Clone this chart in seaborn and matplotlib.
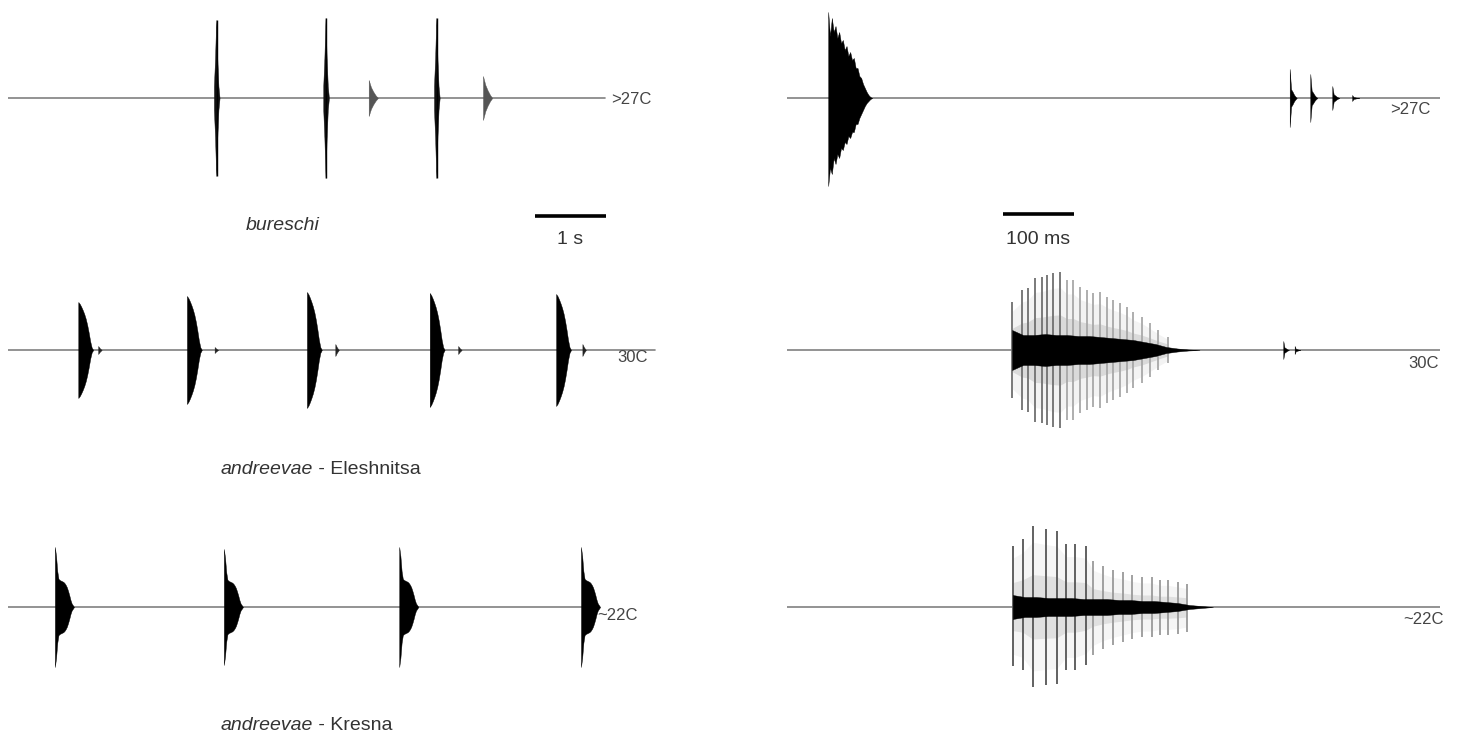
import numpy as np
import seaborn as sns
import matplotlib
matplotlib.use("Agg")
import matplotlib.pyplot as plt

# ---------------------------------------------------------
# Daten (Oszillogramme)
# ---------------------------------------------------------

# linke Spalte: Zeit in s, Amplitude in px
bur_spike_t = [2.94, 4.48, 6.04]
bur_spike_amp = [78, 80, 80]
bur_small_t = [5.08, 6.69]
bur_small_amp = [18, 22]

ele_t = [0.99, 2.52, 4.21, 5.94, 7.72]
ele_amp = [48, 54, 58, 57, 56]
ele_tick_t = [1.27, 2.91, 4.61, 6.34, 8.09]
ele_tick_amp = [4, 3, 6, 4, 6]

kre_t = [0.66, 3.04, 5.51, 8.07]
kre_amp = [60, 58, 60, 60]

# Hüllkurvenprofile (relativ, über die Pulsdauer)
spike_profile = [0.15, 0.5, 1.0, 0.5, 0.15, 0.0]
small_profile = [1.0, 0.6, 0.35, 0.15, 0.0]
ele_profile = [1.0, 0.96, 0.9, 0.83, 0.75, 0.65, 0.52, 0.36, 0.18, 0.05, 0.0]
kre_profile = [1.0, 0.85, 0.6, 0.47, 0.45, 0.44, 0.43, 0.42, 0.4, 0.37,
               0.33, 0.27, 0.2, 0.12, 0.06, 0.03, 0.0]
tick_profile = [1.0, 0.4, 0.0]

# rechte Spalte: Zeit in ms
r1_chirp_t = 58
r1_chirp_up = [86, 62, 80, 66, 72, 60, 66, 55, 58, 48, 52, 42, 46, 38, 40,
               30, 30, 22, 20, 14, 10, 6, 3, 1, 0]
r1_chirp_lo = [88, 70, 76, 60, 66, 56, 60, 50, 52, 44, 46, 38, 40, 34, 34,
               26, 26, 20, 16, 12, 8, 5, 3, 1, 0]
r1_pulse_t = [708, 737, 768, 796]
r1_pulse_amp = [29, 24, 12, 3]
r_pulse_profile = [1.0, 0.3, 0.22, 0.12, 0.05, 0.0]

r2_peak_t = [317, 331, 339, 349, 359, 366, 375, 385, 394, 403, 413, 423,
             431, 441, 451, 459, 469, 479, 487, 500, 511, 523, 537]
r2_peak_amp = [48, 60, 62, 72, 73, 75, 77, 78, 70, 70, 63, 60,
               57, 58, 53, 50, 47, 43, 38, 33, 27, 20, 13]
r2_core = [20, 15, 15, 16, 15, 15, 14, 14, 13, 12, 11, 10, 8, 6, 3, 1.5, 0.5, 0]
r2_pulse_t = [699, 715]
r2_pulse_amp = [9, 4]

r3_peak_t = [318, 332, 346, 365, 380, 393, 406, 421, 431, 445, 459, 473,
             486, 500, 514, 525, 537, 551, 563]
r3_peak_up = [61, 68, 81, 78, 76, 63, 63, 61, 46, 41, 37, 35,
              32, 30, 30, 27, 27, 25, 23]
r3_peak_lo = [59, 63, 80, 78, 77, 63, 63, 58, 48, 42, 38, 35,
              32, 30, 30, 28, 28, 27, 25]
r3_core = [12, 10, 10, 9, 9, 9, 8, 8, 8, 7, 7, 6, 6, 5, 4, 2, 1, 0]

# ---------------------------------------------------------
# Layout
# ---------------------------------------------------------

sns.set_style("white")
plt.rcParams["font.family"] = ["Liberation Sans", "DejaVu Sans"]

W, H = 1458, 746
fig = plt.figure(figsize=(W / 100, H / 100), dpi=100)

LINE = "#808080"
TXT = "#333333"


def make_ax(x0, x1, base, xmax):
    ax = fig.add_axes([x0 / W, 1 - (base + 100) / H, (x1 - x0) / W, 200 / H])
    ax.set_xlim(0, xmax)
    ax.set_ylim(-100, 100)
    ax.axis("off")
    return ax


def pulse(ax, t0, amp, dur, profile, color="black", lo=None):
    tt = np.concatenate([[t0], np.linspace(t0, t0 + dur, len(profile))])
    up = np.concatenate([[0], amp * np.array(profile)])
    if lo is None:
        dn = up
    else:
        dn = np.concatenate([[0], np.array(lo)])
    ax.fill_between(tt, -dn, up, color=color, lw=0.3, edgecolor=color, zorder=3)


def baseline(ax, end):
    sns.lineplot(x=[0, end], y=[0, 0], ax=ax, color=LINE, lw=1.2, zorder=1)


def label(ax, x, y, s):
    ax.text(x, y, s, fontsize=12, color="#444444", va="center")


# linke Achsen: 8..660 px, 71 px pro s
L0, L1 = 8, 660
LX = (L1 - L0) / 71
# rechte Achsen: 787..1440 px, 0.71 px pro ms
R0, R1 = 787, 1440
RX = (R1 - R0) / 0.71

a1 = make_ax(L0, L1, 98, LX)
a2 = make_ax(L0, L1, 350, LX)
a3 = make_ax(L0, L1, 607, LX)
b1 = make_ax(R0, R1, 98, RX)
b2 = make_ax(R0, R1, 350, RX)
b3 = make_ax(R0, R1, 607, RX)

# --- bureschi ---
baseline(a1, 8.41)
for t, a in zip(bur_spike_t, bur_spike_amp):
    pulse(a1, t - 0.04, a, 0.08, spike_profile, color="#111111")
    a1.vlines(t, -a, a, color="black", lw=1.0, zorder=4)
for t, a in zip(bur_small_t, bur_small_amp):
    pulse(a1, t, a, 0.13, small_profile, color="#555555")
label(a1, 8.5, -2, ">27C")
a1.text(3.87, -127, "bureschi", fontsize=14, style="italic", color=TXT,
        ha="center", va="center")
a1.plot([7.42, 8.42], [-118, -118], color="black", lw=2.6, clip_on=False,
        solid_capstyle="butt")
a1.text(7.92, -142, "1 s", fontsize=14, color=TXT, ha="center", va="center")

# --- andreevae Eleshnitsa ---
baseline(a2, 9.11)
for t, a in zip(ele_t, ele_amp):
    pulse(a2, t, a, 0.21, ele_profile)
for t, a in zip(ele_tick_t, ele_tick_amp):
    pulse(a2, t, a, 0.05, tick_profile, color="#222222")
label(a2, 8.58, -7, "30C")
a2.text(4.29, -120, "andreevae", fontsize=14, style="italic", color=TXT,
        ha="right", va="center")
a2.text(4.29, -120, " - Eleshnitsa", fontsize=14, color=TXT, ha="left", va="center")

# --- andreevae Kresna ---
baseline(a3, 8.3)
for t, a in zip(kre_t, kre_amp):
    pulse(a3, t, a, 0.27, kre_profile)
label(a3, 8.3, -8, "~22C")
a3.text(4.29, -118, "andreevae", fontsize=14, style="italic", color=TXT,
        ha="right", va="center")
a3.text(4.29, -118, " - Kresna", fontsize=14, color=TXT, ha="left", va="center")

# --- rechts oben ---
baseline(b1, RX)
pulse(b1, r1_chirp_t, 1.0, 62, r1_chirp_up, lo=r1_chirp_lo)
for t, a in zip(r1_pulse_t, r1_pulse_amp):
    pulse(b1, t, a, 10, r_pulse_profile)
label(b1, 850, -12, ">27C")
b1.plot([304, 404], [-116, -116], color="black", lw=2.6, clip_on=False,
        solid_capstyle="butt")
b1.text(354, -142, "100 ms", fontsize=14, color=TXT, ha="center", va="center")

# --- rechts Mitte ---
baseline(b2, RX)
amp2 = np.array(r2_peak_amp)
b2.fill_between(r2_peak_t, -amp2 * 0.8, amp2 * 0.8, color="#f3f3f3", lw=0, zorder=1.5)
b2.fill_between(r2_peak_t, -amp2 * 0.45, amp2 * 0.45, color="#dadada", lw=0, zorder=1.6)
b2.vlines(r2_peak_t[:8], -amp2[:8], amp2[:8], color="#707070", lw=1.3, zorder=2)
b2.vlines(r2_peak_t[8:], -amp2[8:], amp2[8:], color="#a8a8a8", lw=1.3, zorder=2)
pulse(b2, r2_peak_t[0], 1.0, 264, r2_core)
for t, a in zip(r2_pulse_t, r2_pulse_amp):
    pulse(b2, t, a, 8, r_pulse_profile)
label(b2, 875, -14, "30C")

# --- rechts unten ---
baseline(b3, RX)
up3, lo3 = np.array(r3_peak_up), np.array(r3_peak_lo)
b3.fill_between(r3_peak_t, -lo3 * 0.8, up3 * 0.8, color="#f5f5f5", lw=0, zorder=1.5)
b3.fill_between(r3_peak_t, -lo3 * 0.4, up3 * 0.4, color="#e0e0e0", lw=0, zorder=1.6)
b3.vlines(r3_peak_t[:8], -lo3[:8], up3[:8], color="#555555", lw=1.3, zorder=2)
b3.vlines(r3_peak_t[8:], -lo3[8:], up3[8:], color="#9a9a9a", lw=1.3, zorder=2)
pulse(b3, r3_peak_t[0], 1.0, 282, r3_core)
label(b3, 868, -13, "~22C")

fig.savefig("out.png", dpi=100, facecolor="white")
